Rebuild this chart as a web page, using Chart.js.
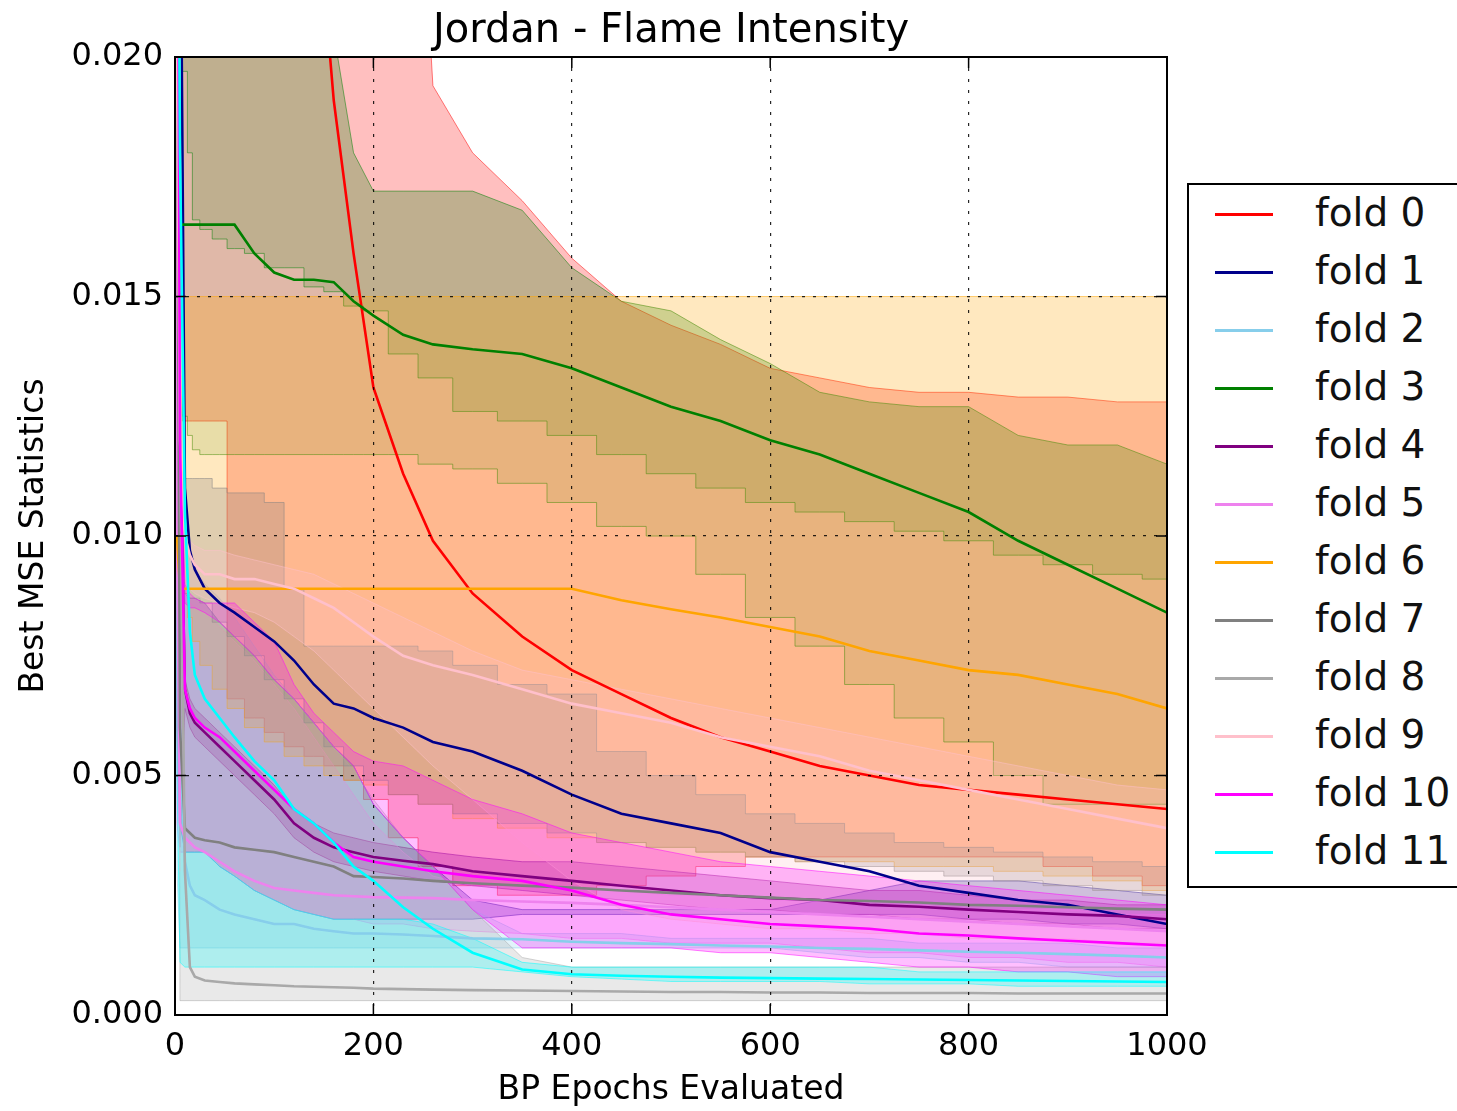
<!DOCTYPE html>
<html>
<head>
<meta charset="utf-8">
<title>Jordan - Flame Intensity</title>
<script src="https://cdn.jsdelivr.net/npm/chart.js@4.4.1/dist/chart.umd.min.js"></script>
<style>
  body { margin: 0; background: #fff; overflow: hidden; font-family: "DejaVu Sans", sans-serif; }
  #wrap { position: relative; width: 1457px; height: 1111px; }
  #chart { position: absolute; left: 0; top: 0; }
  #legend {
    position: absolute; left: 1187px; top: 183px; width: 300px; height: 705px;
    border: 2px solid #000; background: #fff; box-sizing: border-box;
  }
  .row { position: absolute; left: 0; height: 58px; width: 300px; }
  .swatch { position: absolute; left: 26px; top: 28px; width: 58px; height: 3px; }
  .name { position: absolute; left: 126px; top: 3px; font-size: 39px; line-height: 50px; color: #111; white-space: nowrap; }
</style>
</head>
<body>
<div id="wrap">
  <canvas id="chart" width="1457" height="1111"></canvas>
  <div id="legend"></div>
</div>
<script>
// epochs where every series is sampled
const epochs = [0, 2, 5, 10, 15, 20, 30, 45, 60, 80, 100, 120, 140, 160, 180, 200, 230, 260, 300, 350, 400, 450, 500, 550, 600, 650, 700, 750, 800, 850, 900, 950, 1000];

const foldNames = ["fold 0", "fold 1", "fold 2", "fold 3", "fold 4", "fold 5", "fold 6", "fold 7", "fold 8", "fold 9", "fold 10", "fold 11"];
const foldColors = ["#ff0000", "#00008b", "#87ceeb", "#008000", "#800080", "#ee82ee", "#ffa500", "#808080", "#a9a9a9", "#ffc0cb", "#ff00ff", "#00ffff"];

// mean best MSE per fold
const mean0 = [0.08, 0.075, 0.07, 0.065, 0.06, 0.056, 0.052, 0.046, 0.041, 0.035, 0.031, 0.027, 0.024, 0.0191, 0.0159, 0.0131, 0.0113, 0.0099, 0.0088, 0.0079, 0.0072, 0.0067, 0.0062, 0.0058, 0.0055, 0.0052, 0.0050, 0.0048, 0.0047, 0.0046, 0.0045, 0.0044, 0.0043];
const mean1 = [0.05, 0.04, 0.025, 0.0110, 0.0097, 0.0093, 0.0089, 0.0086, 0.0084, 0.0081, 0.0078, 0.0074, 0.0069, 0.0065, 0.0064, 0.0062, 0.0060, 0.0057, 0.0055, 0.0051, 0.0046, 0.0042, 0.0040, 0.0038, 0.0034, 0.0032, 0.0030, 0.0027, 0.00255, 0.0024, 0.0023, 0.0021, 0.0019];
const mean2 = [0.04, 0.02, 0.006, 0.0032, 0.0027, 0.0025, 0.0024, 0.0022, 0.0021, 0.0020, 0.0019, 0.0019, 0.0018, 0.00175, 0.0017, 0.0017, 0.00168, 0.00165, 0.0016, 0.00158, 0.00153, 0.0015, 0.00148, 0.00145, 0.00143, 0.0014, 0.00138, 0.00135, 0.00132, 0.0013, 0.00127, 0.00124, 0.0012];
const mean3 = [null, null, 0.0165, 0.0165, 0.0165, 0.0165, 0.0165, 0.0165, 0.0165, 0.0159, 0.0155, 0.01535, 0.01535, 0.0153, 0.0149, 0.0146, 0.0142, 0.0140, 0.0139, 0.0138, 0.0135, 0.0131, 0.0127, 0.0124, 0.0120, 0.0117, 0.0113, 0.0109, 0.0105, 0.0099, 0.0094, 0.0089, 0.0084];
const mean4 = [0.05, 0.03, 0.012, 0.0068, 0.0063, 0.0061, 0.0059, 0.0056, 0.0053, 0.0049, 0.0045, 0.0040, 0.0037, 0.0035, 0.0034, 0.0033, 0.00322, 0.00315, 0.0030, 0.0029, 0.0028, 0.0027, 0.0026, 0.0025, 0.00244, 0.0024, 0.0023, 0.00226, 0.0022, 0.00215, 0.0021, 0.00207, 0.0020];
const mean5 = [0.05, 0.01, 0.0040, 0.0037, 0.0036, 0.0035, 0.0034, 0.0032, 0.0030, 0.0028, 0.00265, 0.0026, 0.00255, 0.0025, 0.00248, 0.00246, 0.00245, 0.00244, 0.0024, 0.00237, 0.00234, 0.0023, 0.00225, 0.0022, 0.00215, 0.0021, 0.00205, 0.0020, 0.00195, 0.0019, 0.00185, 0.0018, 0.00175];
const mean6 = [null, 0.0100, 0.0089, 0.0089, 0.0089, 0.0089, 0.0089, 0.0089, 0.0089, 0.0089, 0.0089, 0.0089, 0.0089, 0.0089, 0.0089, 0.0089, 0.0089, 0.0089, 0.0089, 0.0089, 0.0089, 0.00866, 0.00847, 0.0083, 0.0081, 0.0079, 0.0076, 0.0074, 0.0072, 0.0071, 0.0069, 0.0067, 0.0064];
const mean7 = [0.05, 0.02, 0.006, 0.0039, 0.0038, 0.0037, 0.00365, 0.0036, 0.0035, 0.00345, 0.0034, 0.0033, 0.0032, 0.0031, 0.0029, 0.00288, 0.00285, 0.0028, 0.00275, 0.0027, 0.00266, 0.0026, 0.00255, 0.0025, 0.00245, 0.0024, 0.00238, 0.00235, 0.0023, 0.00228, 0.00225, 0.00222, 0.0022];
const mean8 = [0.05, 0.03, 0.012, 0.003, 0.0010, 0.0008, 0.00072, 0.00069, 0.00066, 0.00064, 0.00062, 0.0006, 0.00059, 0.00058, 0.00057, 0.00055, 0.00054, 0.00053, 0.00052, 0.00051, 0.0005, 0.00049, 0.00048, 0.00048, 0.00047, 0.00047, 0.00046, 0.00046, 0.00046, 0.00045, 0.00045, 0.00045, 0.00045];
const mean9 = [0.04, 0.02, 0.012, 0.0100, 0.0096, 0.0094, 0.0092, 0.0092, 0.0091, 0.0091, 0.0090, 0.0089, 0.0087, 0.0085, 0.0082, 0.0079, 0.0075, 0.0073, 0.0071, 0.0068, 0.0065, 0.0063, 0.0061, 0.0058, 0.0056, 0.0054, 0.0051, 0.0049, 0.0047, 0.0045, 0.0043, 0.0041, 0.0039];
const mean10 = [0.05, 0.03, 0.012, 0.0068, 0.0064, 0.0062, 0.0060, 0.0058, 0.0055, 0.0051, 0.0047, 0.0043, 0.0040, 0.0036, 0.0033, 0.0032, 0.0031, 0.0030, 0.0029, 0.0028, 0.0026, 0.0023, 0.0021, 0.0020, 0.0019, 0.00185, 0.0018, 0.0017, 0.00166, 0.0016, 0.00155, 0.0015, 0.00145];
const mean11 = [0.05, 0.03, 0.018, 0.0105, 0.0080, 0.0071, 0.0066, 0.0062, 0.0058, 0.0053, 0.0049, 0.0043, 0.0040, 0.0036, 0.0031, 0.0028, 0.00225, 0.0018, 0.0013, 0.00095, 0.00085, 0.00082, 0.0008, 0.00078, 0.00077, 0.00076, 0.00075, 0.00074, 0.00073, 0.00072, 0.00071, 0.0007, 0.00069];

// band upper edge per fold
const hi0 = [0.03, 0.03, 0.03, 0.03, 0.03, 0.03, 0.03, 0.03, 0.03, 0.03, 0.03, 0.03, 0.03, 0.03, 0.03, 0.03, 0.03, 0.0194, 0.0180, 0.0170, 0.0158, 0.0149, 0.0144, 0.0140, 0.0135, 0.0133, 0.0131, 0.0130, 0.0130, 0.0129, 0.0129, 0.0128, 0.0128];
const hi1 = [0.03, 0.03, 0.012, 0.0088, 0.0087, 0.0087, 0.0086, 0.0082, 0.0079, 0.0075, 0.0070, 0.0066, 0.0061, 0.0056, 0.0052, 0.0044, 0.0037, 0.0031, 0.0024, 0.0022, 0.0022, 0.0022, 0.0022, 0.0022, 0.0022, 0.0024, 0.0026, 0.0028, 0.0028, 0.0028, 0.0027, 0.0026, 0.0025];
const hi2 = [0.03, 0.01, 0.0088, 0.0088, 0.0087, 0.0087, 0.0086, 0.0082, 0.0079, 0.0075, 0.0070, 0.0066, 0.0061, 0.0056, 0.0052, 0.0044, 0.0037, 0.0031, 0.0022, 0.0017, 0.0017, 0.0017, 0.0016, 0.0016, 0.0016, 0.0016, 0.0016, 0.0015, 0.0015, 0.0015, 0.0015, 0.0014, 0.0014];
const hi3 = [0.03, 0.03, 0.03, 0.03, 0.03, 0.03, 0.03, 0.03, 0.03, 0.03, 0.03, 0.03, 0.03, 0.0205, 0.0180, 0.0172, 0.0172, 0.0172, 0.0172, 0.0168, 0.0156, 0.0149, 0.0147, 0.0141, 0.0136, 0.0130, 0.0128, 0.0127, 0.0127, 0.0121, 0.0119, 0.0119, 0.0115];
const hi4 = [0.03, 0.03, 0.012, 0.0070, 0.0066, 0.0064, 0.0062, 0.0059, 0.0056, 0.0052, 0.0048, 0.0043, 0.0040, 0.0038, 0.0037, 0.0036, 0.0035, 0.0034, 0.0033, 0.0032, 0.0032, 0.0031, 0.0030, 0.0029, 0.0028, 0.0027, 0.0026, 0.0026, 0.0025, 0.0024, 0.0024, 0.0023, 0.0023];
const hi5 = [0.03, 0.02, 0.0088, 0.0086, 0.0086, 0.0085, 0.0084, 0.0081, 0.0078, 0.0074, 0.0069, 0.0064, 0.0058, 0.0052, 0.0046, 0.0040, 0.0034, 0.0029, 0.0027, 0.0027, 0.0026, 0.0026, 0.0025, 0.0025, 0.0024, 0.0024, 0.0023, 0.0023, 0.0022, 0.0022, 0.0022, 0.0021, 0.0021];
const hi6 = [0.03, 0.03, 0.015, 0.015, 0.015, 0.015, 0.015, 0.015, 0.015, 0.015, 0.015, 0.015, 0.015, 0.015, 0.015, 0.015, 0.015, 0.015, 0.015, 0.015, 0.015, 0.015, 0.015, 0.015, 0.015, 0.015, 0.015, 0.015, 0.015, 0.015, 0.015, 0.015, 0.015];
const hi7 = [0.03, 0.03, 0.0112, 0.0112, 0.0112, 0.0112, 0.0112, 0.0110, 0.0109, 0.0109, 0.0107, 0.0089, 0.0077, 0.0077, 0.0077, 0.0077, 0.0077, 0.0076, 0.0073, 0.0069, 0.0067, 0.0055, 0.0050, 0.0046, 0.0042, 0.0040, 0.0038, 0.0036, 0.0035, 0.0034, 0.0033, 0.0032, 0.0031];
const hi8 = [0.03, 0.03, 0.012, 0.0100, 0.0095, 0.0093, 0.0090, 0.0087, 0.0083, 0.0077, 0.0071, 0.0066, 0.0061, 0.0056, 0.0051, 0.0045, 0.0037, 0.0031, 0.0022, 0.0012, 0.0010, 0.0010, 0.0010, 0.0010, 0.0010, 0.0010, 0.0010, 0.0010, 0.0010, 0.0010, 0.0010, 0.0010, 0.0010];
const hi9 = [0.03, 0.03, 0.012, 0.0100, 0.0099, 0.0098, 0.0097, 0.0097, 0.0096, 0.0095, 0.0094, 0.0093, 0.0092, 0.0090, 0.0088, 0.0086, 0.0083, 0.0080, 0.0076, 0.0072, 0.0070, 0.0068, 0.0066, 0.0064, 0.0062, 0.0060, 0.0058, 0.0056, 0.0054, 0.0052, 0.0050, 0.0048, 0.0047];
const hi10 = [0.03, 0.03, 0.012, 0.0090, 0.0088, 0.0087, 0.0086, 0.0086, 0.0086, 0.0082, 0.0078, 0.0069, 0.0063, 0.0059, 0.0055, 0.0053, 0.0052, 0.0049, 0.0045, 0.0042, 0.0038, 0.0036, 0.0034, 0.0032, 0.0031, 0.0030, 0.0029, 0.0028, 0.0027, 0.0026, 0.0025, 0.0024, 0.0023];
const hi11 = [0.03, 0.03, 0.006, 0.0034, 0.0034, 0.0034, 0.0034, 0.0031, 0.0029, 0.0026, 0.0024, 0.0022, 0.0021, 0.0020, 0.0020, 0.0020, 0.0020, 0.0019, 0.0016, 0.0011, 0.0010, 0.0010, 0.0010, 0.0010, 0.0010, 0.0010, 0.0010, 0.0009, 0.0009, 0.0009, 0.0009, 0.0009, 0.0009];

// inner edge of the fold 3 band (darker part above it)
const mid3 = [0.03, 0.03, 0.03, 0.0197, 0.0180, 0.0166, 0.0164, 0.0162, 0.0160, 0.0159, 0.0156, 0.0156, 0.0152, 0.0151, 0.0148, 0.0147, 0.0138, 0.0133, 0.0126, 0.0124, 0.0121, 0.0117, 0.0113, 0.0110, 0.0107, 0.0105, 0.0103, 0.0101, 0.0099, 0.0096, 0.0094, 0.0092, 0.0091];

// band lower edge per fold
const lo0 = [0.03, 0.03, 0.03, 0.0124, 0.0124, 0.0124, 0.0124, 0.0124, 0.0066, 0.0062, 0.0059, 0.0056, 0.0054, 0.0052, 0.0049, 0.0045, 0.0037, 0.0031, 0.0027, 0.0025, 0.0025, 0.0027, 0.0029, 0.0031, 0.0033, 0.0033, 0.0033, 0.0033, 0.0033, 0.0033, 0.0031, 0.0029, 0.0027];
const lo1 = [0.03, 0.006, 0.0040, 0.0034, 0.0034, 0.0034, 0.0034, 0.0031, 0.0029, 0.0026, 0.0024, 0.0022, 0.0021, 0.0020, 0.0020, 0.0020, 0.0020, 0.0020, 0.0020, 0.0021, 0.0021, 0.0021, 0.0021, 0.0021, 0.0021, 0.0021, 0.0021, 0.0021, 0.0020, 0.0020, 0.0019, 0.0019, 0.0018];
const lo2 = [0.03, 0.003, 0.0014, 0.0014, 0.0014, 0.0014, 0.0014, 0.0014, 0.0014, 0.0014, 0.0014, 0.0014, 0.0014, 0.0014, 0.0014, 0.0014, 0.0014, 0.0014, 0.0014, 0.0014, 0.0014, 0.0014, 0.0014, 0.0014, 0.0014, 0.0013, 0.0012, 0.0012, 0.0011, 0.0011, 0.0010, 0.0010, 0.0010];
const lo3 = [0.03, 0.03, 0.03, 0.0125, 0.0121, 0.0118, 0.0117, 0.0117, 0.0117, 0.0117, 0.0117, 0.0117, 0.0117, 0.0117, 0.0117, 0.0117, 0.0117, 0.0115, 0.0114, 0.0111, 0.0107, 0.0102, 0.0100, 0.0092, 0.0083, 0.0077, 0.0069, 0.0062, 0.0057, 0.0050, 0.0044, 0.0044, 0.0044];
const lo4 = [0.03, 0.006, 0.0035, 0.0064, 0.0060, 0.0058, 0.0056, 0.0053, 0.0050, 0.0046, 0.0042, 0.0037, 0.0034, 0.0032, 0.0031, 0.0030, 0.0029, 0.0028, 0.0027, 0.0026, 0.0025, 0.0024, 0.0023, 0.0022, 0.0022, 0.0021, 0.0021, 0.0020, 0.0020, 0.0019, 0.0019, 0.0018, 0.0018];
const lo5 = [0.03, 0.004, 0.0034, 0.0034, 0.0034, 0.0034, 0.0034, 0.0031, 0.0029, 0.0026, 0.0024, 0.0022, 0.0021, 0.0020, 0.0020, 0.0019, 0.0019, 0.0018, 0.00175, 0.0017, 0.0016, 0.0016, 0.0015, 0.0015, 0.0015, 0.0014, 0.0013, 0.0013, 0.0012, 0.0012, 0.0011, 0.0011, 0.0010];
const lo6 = [0.03, 0.03, 0.0090, 0.0088, 0.0083, 0.0078, 0.0073, 0.0068, 0.0064, 0.0060, 0.0057, 0.0054, 0.0052, 0.0050, 0.0049, 0.0048, 0.0046, 0.0044, 0.0041, 0.0039, 0.0037, 0.0036, 0.0035, 0.0034, 0.0033, 0.0032, 0.0032, 0.0031, 0.0031, 0.0030, 0.0029, 0.0028, 0.0026];
const lo7 = [0.03, 0.03, 0.0088, 0.0088, 0.0087, 0.0087, 0.0086, 0.0082, 0.0079, 0.0075, 0.0070, 0.0066, 0.0061, 0.0056, 0.0052, 0.0049, 0.0046, 0.0044, 0.0042, 0.0040, 0.0038, 0.0036, 0.0035, 0.0034, 0.0033, 0.0032, 0.0031, 0.0030, 0.0029, 0.0028, 0.0027, 0.0026, 0.0025];
const lo8 = [0.03, 0.03, 0.0003, 0.0003, 0.0003, 0.0003, 0.0003, 0.0003, 0.0003, 0.0003, 0.0003, 0.0003, 0.0003, 0.0003, 0.0003, 0.0003, 0.0003, 0.0003, 0.0003, 0.0003, 0.0003, 0.0003, 0.0003, 0.0003, 0.0003, 0.0003, 0.0003, 0.0003, 0.0003, 0.0003, 0.0003, 0.0003, 0.0003];
const lo9 = [0.03, 0.006, 0.0030, 0.0090, 0.0089, 0.0088, 0.0087, 0.0086, 0.0085, 0.0084, 0.0082, 0.0079, 0.0076, 0.0072, 0.0068, 0.0064, 0.0058, 0.0052, 0.0045, 0.0036, 0.0028, 0.0022, 0.0020, 0.0019, 0.0018, 0.0018, 0.0017, 0.0017, 0.0016, 0.0016, 0.0016, 0.0015, 0.0015];
const lo10 = [0.03, 0.03, 0.012, 0.0086, 0.0085, 0.0085, 0.0084, 0.0082, 0.0079, 0.0075, 0.0070, 0.0066, 0.0061, 0.0056, 0.0052, 0.0044, 0.0037, 0.0031, 0.0022, 0.0014, 0.0014, 0.0014, 0.0014, 0.0013, 0.0013, 0.0012, 0.0011, 0.0010, 0.0010, 0.0009, 0.0009, 0.0008, 0.0008];
const lo11 = [0.03, 0.005, 0.0011, 0.0010, 0.0010, 0.0010, 0.0010, 0.0010, 0.0010, 0.0010, 0.0010, 0.0010, 0.0010, 0.0010, 0.0010, 0.0010, 0.0010, 0.0010, 0.0010, 0.0009, 0.0008, 0.00075, 0.0007, 0.0007, 0.0007, 0.0007, 0.00065, 0.00065, 0.00065, 0.0006, 0.0006, 0.0006, 0.0006];

const yTicks = [0, 0.005, 0.010, 0.015, 0.020];
const xTicks = [0, 200, 400, 600, 800, 1000];

const meanSeries = [mean0, mean1, mean2, mean3, mean4, mean5, mean6, mean7, mean8, mean9, mean10, mean11];
const highSeries = [hi0, hi1, hi2, hi3, hi4, hi5, hi6, hi7, hi8, hi9, hi10, hi11];
const lowSeries = [lo0, lo1, lo2, lo3, lo4, lo5, lo6, lo7, lo8, lo9, lo10, lo11];
const innerSeries = { 3: mid3 };

// edges drawn as staircases
const steppedHigh = [6, 7];
const steppedLow = [0, 3, 6, 7];

const FONT = "DejaVu Sans";

function toPoints(values) {
  return epochs.map((x, i) => ({ x: x, y: values[i] }));
}

function withAlpha(hex, a) {
  const r = parseInt(hex.slice(1, 3), 16);
  const g = parseInt(hex.slice(3, 5), 16);
  const b = parseInt(hex.slice(5, 7), 16);
  return `rgba(${r},${g},${b},${a})`;
}

function edge(label, values, color, stepped, fill, alpha) {
  return {
    label: label,
    data: toPoints(values),
    fill: fill ? "+1" : false,
    stepped: stepped ? "middle" : false,
    backgroundColor: withAlpha(color, alpha),
    borderColor: withAlpha(color, 0.5),
    borderWidth: 1,
    pointRadius: 0,
    clip: 0
  };
}

// bands first (max filled down to min), then the mean lines on top
const datasets = [];
foldNames.forEach((name, i) => {
  const c = foldColors[i];
  const order = 100 + 11 - i;
  if (innerSeries[i]) {
    datasets.push({ ...edge(name + " max", highSeries[i], c, steppedHigh.includes(i), true, 0.25), order });
    datasets.push({ ...edge(name + " inner", innerSeries[i], c, true, true, 0.12), order });
  } else {
    datasets.push({ ...edge(name + " max", highSeries[i], c, steppedHigh.includes(i), true, 0.25), order });
  }
  datasets.push({ ...edge(name + " min", lowSeries[i], c, steppedLow.includes(i), false, 0), order });
});
foldNames.forEach((name, i) => {
  datasets.push({
    label: name,
    data: toPoints(meanSeries[i]),
    fill: false,
    borderColor: foldColors[i],
    borderWidth: 2.6,
    pointRadius: 0,
    order: 11 - i,
    clip: 0
  });
});

// black frame plus inward tick marks on all four sides
const framePlugin = {
  id: "frame",
  afterDraw(chart) {
    const { ctx, chartArea: a, scales } = chart;
    ctx.save();
    ctx.strokeStyle = "#000";
    ctx.lineWidth = 1.5;
    ctx.beginPath();
    xTicks.forEach(v => {
      const px = scales.x.getPixelForValue(v);
      ctx.moveTo(px, a.bottom); ctx.lineTo(px, a.bottom - 11);
      ctx.moveTo(px, a.top); ctx.lineTo(px, a.top + 11);
    });
    yTicks.forEach(v => {
      const py = scales.y.getPixelForValue(v);
      ctx.moveTo(a.left, py); ctx.lineTo(a.left + 11, py);
      ctx.moveTo(a.right, py); ctx.lineTo(a.right - 11, py);
    });
    ctx.stroke();
    ctx.lineWidth = 2;
    ctx.strokeRect(a.left, a.top, a.right - a.left, a.bottom - a.top);
    ctx.restore();
  }
};

const ctx = document.getElementById("chart").getContext("2d");

new Chart(ctx, {
  type: "line",
  data: { datasets: datasets },
  options: {
    responsive: false,
    animation: false,
    events: [],
    layout: { padding: { left: 0, right: 290, top: 0, bottom: 0 } },
    plugins: {
      legend: { display: false },
      tooltip: { enabled: false },
      title: {
        display: true,
        text: "Jordan - Flame Intensity",
        fullSize: false,
        color: "#000",
        font: { family: FONT, size: 40, weight: "normal" },
        padding: { top: 8, bottom: 1 }
      }
    },
    scales: {
      x: {
        type: "linear",
        min: 0,
        max: 1000,
        afterFit: s => { s.height = 96; },
        ticks: {
          stepSize: 200,
          color: "#000",
          padding: 12,
          font: { family: FONT, size: 32 },
          callback: v => String(v)
        },
        grid: { color: "rgba(0,0,0,0.85)", lineWidth: 1.2, drawTicks: false, z: 1 },
        border: { display: false, dash: [3, 8] },
        title: {
          display: true,
          text: "BP Epochs Evaluated",
          color: "#000",
          font: { family: FONT, size: 33 },
          padding: { top: 0, bottom: 1 }
        }
      },
      y: {
        type: "linear",
        min: 0,
        max: 0.02,
        afterFit: s => { s.width = 175; },
        afterBuildTicks: s => { s.ticks = yTicks.map(v => ({ value: v })); },
        ticks: {
          color: "#000",
          padding: 12,
          font: { family: FONT, size: 32 },
          callback: v => Number(v).toFixed(3)
        },
        grid: { color: "rgba(0,0,0,0.85)", lineWidth: 1.2, drawTicks: false, z: 1 },
        border: { display: false, dash: [3, 8] },
        title: {
          display: true,
          text: "Best MSE Statistics",
          color: "#000",
          font: { family: FONT, size: 33 },
          padding: { top: 15, bottom: 0 }
        }
      }
    }
  },
  plugins: [framePlugin]
});

// legend box on the right
const legend = document.getElementById("legend");
foldNames.forEach((name, i) => {
  const row = document.createElement("div");
  row.className = "row";
  row.style.top = (i * 58) + "px";
  row.innerHTML = `<div class="swatch" style="background:${foldColors[i]}"></div><div class="name">${name}</div>`;
  legend.appendChild(row);
});
</script>
</body>
</html>
